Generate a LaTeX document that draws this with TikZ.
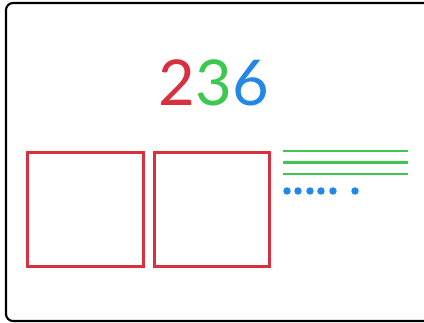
\documentclass[tikz,border=0pt]{standalone}
\usepackage{fontspec}
\usepackage{xcolor}
\usepackage{tikz}
\usetikzlibrary{positioning}
\newfontfamily\digitfont{Lato}
\definecolor{hundredred}{HTML}{D9303F}
\definecolor{tengreen}{HTML}{3CC84F}
\definecolor{oneblue}{HTML}{2288E8}
\newdimen\pxunit
\pxunit=0.567pt
\tikzset{
  frame/.style    = {draw=black, line width=1.2pt, rounded corners=4pt},
  hundred/.style  = {rectangle, draw=hundredred, line width=1.7pt, minimum width=116\pxunit,
                     minimum height=114\pxunit, inner sep=0pt},
  tenbar/.style   = {draw=tengreen, line width=1.6pt},
  onedot/.style   = {circle, fill=oneblue, inner sep=0pt, minimum size=7.5\pxunit},
  numeral/.style  = {font=\digitfont\fontsize{36}{36}\selectfont, inner sep=0pt},
}

\begin{document}
\begin{tikzpicture}[x=0.02cm, y=-0.02cm]
  \useasboundingbox (0,0) rectangle (424,323);
  \clip (0,0) rectangle (424,323);
  \draw[frame] (6,3) rectangle (440,321);
  % the number, one colour per place
  \node[numeral] (num) at (214,83)
    {\textcolor{hundredred}{2}\textcolor{tengreen}{3}\textcolor{oneblue}{6}};
  % hundreds
  \node[hundred] (h1) at (85.5,209.5) {};
  \node[hundred, right=8\pxunit of h1] (h2) {};
  % tens
  \foreach \y/\nm in {151/t1, 162.5/t2, 174/t3} {
    \coordinate (\nm a) at (283,\y);
    \coordinate (\nm b) at (408,\y);
    \draw[tenbar] (\nm a) -- (\nm b);
  }
  % ones
  \foreach \x [count=\i] in {287,298,310,321,333,355}
    \node[onedot] (o\i) at (\x,191) {};
\end{tikzpicture}
\end{document}
